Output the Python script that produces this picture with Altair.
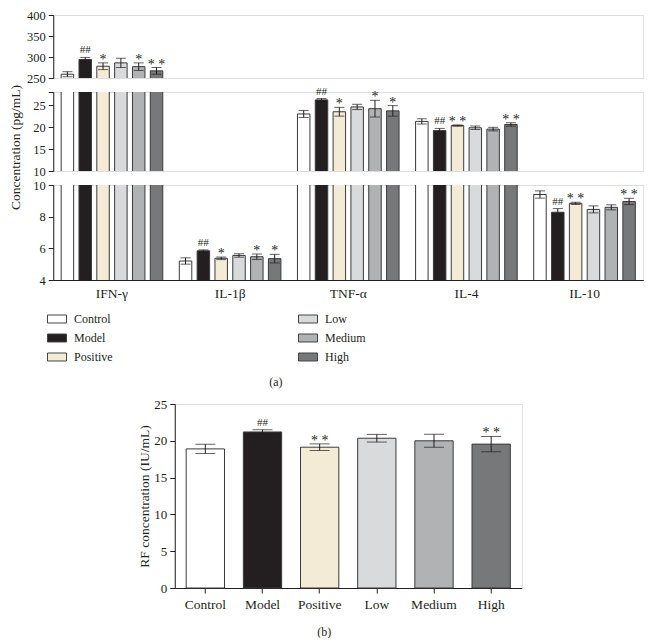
import altair as alt
import pandas as pd

FONT = "Liberation Serif"
INK = "#231f20"

groups = ["IFN-γ", "IL-1β", "TNF-α", "IL-4", "IL-10"]
treatments = ["Control", "Model", "Positive", "Low", "Medium", "High"]
colors = ["#ffffff", "#231f20", "#f3ebd6", "#d9dadb", "#b0b2b4", "#77787a"]

ifn_mean = [259, 294, 278, 286, 277, 267]
ifn_err = [6, 5, 8, 11, 9, 8]
ifn_sig = ["", "##", "*", "", "*", "* *"]

il1b_mean = [5.2, 5.84, 5.37, 5.55, 5.47, 5.35]
il1b_err = [0.2, 0.06, 0.08, 0.11, 0.17, 0.27]
il1b_sig = ["", "##", "*", "", "*", "*"]

tnf_mean = [23.0, 26.2, 23.5, 24.6, 24.2, 23.7]
tnf_err = [0.8, 0.3, 1.0, 0.6, 1.9, 1.2]
tnf_sig = ["", "##", "*", "", "*", "*"]

il4_mean = [21.3, 19.2, 20.35, 19.85, 19.55, 20.6]
il4_err = [0.6, 0.5, 0.15, 0.4, 0.4, 0.4]
il4_sig = ["", "##", "* *", "", "", "* *"]

il10_mean = [9.4, 8.28, 8.84, 8.46, 8.59, 8.96]
il10_err = [0.23, 0.23, 0.07, 0.22, 0.16, 0.2]
il10_sig = ["", "##", "* *", "", "", "* *"]

rf_mean = [18.9, 21.2, 19.13, 20.35, 20.0, 19.55]
rf_err = [0.63, 0.3, 0.45, 0.52, 0.88, 1.04]
rf_sig = ["", "##", "* *", "", "", "* *"]

# which axis segment each cytokine is read on: 0 = top, 1 = middle, 2 = bottom
segment_of = {"IFN-γ": 0, "IL-1β": 2, "TNF-α": 1, "IL-4": 1, "IL-10": 2}

rows = []
for g, ms, es, ss in zip(groups,
                         [ifn_mean, il1b_mean, tnf_mean, il4_mean, il10_mean],
                         [ifn_err, il1b_err, tnf_err, il4_err, il10_err],
                         [ifn_sig, il1b_sig, tnf_sig, il4_sig, il10_sig]):
    for t, m, e, s in zip(treatments, ms, es, ss):
        rows.append(dict(group=g, treatment=t, mean=m, lo=m - e, hi=m + e, sig=s, seg=segment_of[g]))
df = pd.DataFrame(rows)

rf_df = pd.DataFrame(dict(treatment=treatments, mean=rf_mean,
                          lo=[m - e for m, e in zip(rf_mean, rf_err)],
                          hi=[m + e for m, e in zip(rf_mean, rf_err)],
                          sig=rf_sig))

legend = alt.Legend(title=None, orient="none", legendX=-6, legendY=294, columns=2,
                    columnPadding=183, rowPadding=3, symbolType="M-1,-0.42H1V0.42H-1Z",
                    symbolSize=361, symbolStrokeColor="#444", symbolStrokeWidth=1,
                    labelFont=FONT, labelFontSize=12, labelColor=INK, labelOffset=7,
                    symbolOpacity=1)

color = alt.Color("treatment:N", scale=alt.Scale(domain=treatments, range=colors),
                  legend=legend)

W = 590


def yaxis(values, title=None, titleY=None, hide=None, titlePadding=10, fs=13):
    kw = dict(values=values, grid=False, tickSize=5, domainColor=INK, tickColor=INK,
              labelColor=INK, labelFont=FONT, labelFontSize=fs, labelPadding=3,
              labelOverlap=False, labelFlush=False, labelBound=False)
    if title:
        kw.update(title=title, titleFont=FONT, titleFontSize=13.5, titleFontWeight="normal",
                  titleColor=INK, titlePadding=titlePadding)
        if titleY is not None:
            kw.update(titleY=titleY)
    else:
        kw.update(title=None)
    if hide is not None:
        kw.update(labelExpr=f"datum.value == {hide} ? '' : datum.label")
    return alt.Axis(**kw)


def sig_layers(base, x, xo, y):
    enc = dict(x=x, y=y, text="sig:N")
    if xo is not None:
        enc["xOffset"] = xo
    stars = base.transform_filter("datum.sig != '##'").mark_text(
        baseline="alphabetic", dy=1, font=FONT, fontSize=14, color=INK).encode(**enc)
    hashes = base.transform_filter("datum.sig == '##'").mark_text(
        baseline="alphabetic", dy=-4, font=FONT, fontSize=11, color=INK).encode(**enc)
    return [stars, hashes]


def panel(domain, height, values, seg, show_x, title=None, titleY=None, hide=None):
    if show_x:
        xax = alt.Axis(labelAngle=0, ticks=False, domainColor=INK, labelColor=INK,
                       labelFont=FONT, labelFontSize=13.5, labelPadding=6, title=None)
    else:
        xax = None
    x = alt.X("group:N", sort=groups, title=None,
              scale=alt.Scale(paddingInner=0.14, paddingOuter=0.067), axis=xax)
    xo = alt.XOffset("treatment:N", sort=treatments,
                     scale=alt.Scale(paddingInner=0.3, paddingOuter=0))
    ysc = alt.Scale(domain=domain, zero=False, nice=False)
    ax = yaxis(values, title, titleY, hide, fs=12.5)
    bars = alt.Chart(df).mark_bar(clip=True, stroke="#3a3a3a", strokeWidth=1).encode(
        x=x, xOffset=xo,
        y=alt.Y("mean:Q", scale=ysc, axis=ax),
        color=color,
    )
    sub = df[df.seg == seg]
    base = alt.Chart(sub)
    err = base.mark_rule(color=INK, strokeWidth=1).encode(
        x=x, xOffset=xo, y=alt.Y("lo:Q", scale=ysc, axis=ax), y2="hi:Q")
    caps_hi = base.mark_tick(color=INK, thickness=1, size=10).encode(
        x=x, xOffset=xo, y=alt.Y("hi:Q", scale=ysc, axis=ax))
    caps_lo = base.mark_tick(color=INK, thickness=1, size=10).encode(
        x=x, xOffset=xo, y=alt.Y("lo:Q", scale=ysc, axis=ax))
    txt = sig_layers(base, x, xo, alt.Y("hi:Q", scale=ysc, axis=ax))
    return alt.layer(bars, err, caps_hi, caps_lo, *txt).properties(width=W, height=height)


top = panel([250, 400], 63, [250, 300, 350, 400], 0, False)
mid = panel([10, 28], 79, [10, 15, 20, 25, 28], 1, False,
            title="Concentration (pg/mL)", titleY=55, hide=28)
bot = panel([4, 10], 95, [4, 6, 8, 10], 2, True)

a_sec = alt.vconcat(top, mid, bot, spacing=14, bounds="flush").properties(
    title=alt.TitleParams("(a)", orient="bottom", anchor="start", dx=261, offset=77,
                          font=FONT, fontSize=12, fontWeight="normal", color=INK))

bx = alt.X("treatment:N", sort=treatments, title=None,
           scale=alt.Scale(paddingInner=0.33, paddingOuter=0.2),
           axis=alt.Axis(labelAngle=0, tickSize=5, domainColor=INK, tickColor=INK,
                         labelColor=INK, labelFont=FONT, labelFontSize=13.5, labelPadding=4))
bysc = alt.Scale(domain=[0, 25], nice=False)
bax = yaxis([0, 5, 10, 15, 20, 25], "RF concentration (IU/mL)", titlePadding=2)
b_bars = alt.Chart(rf_df).mark_bar(stroke="#3a3a3a", strokeWidth=1).encode(
    x=bx, y=alt.Y("mean:Q", scale=bysc, axis=bax), color=color)
b_base = alt.Chart(rf_df)
b_err = b_base.mark_rule(color=INK, strokeWidth=1).encode(
    x=bx, y=alt.Y("lo:Q", scale=bysc, axis=bax), y2="hi:Q")
b_cap1 = b_base.mark_tick(color=INK, thickness=1, size=20).encode(
    x=bx, y=alt.Y("hi:Q", scale=bysc, axis=bax))
b_cap2 = b_base.mark_tick(color=INK, thickness=1, size=20).encode(
    x=bx, y=alt.Y("lo:Q", scale=bysc, axis=bax))
b_txt = sig_layers(b_base, bx, None, alt.Y("hi:Q", scale=bysc, axis=bax))
b_chart = alt.layer(b_bars, b_err, b_cap1, b_cap2, *b_txt).properties(
    width=347, height=184,
    title=alt.TitleParams("(b)", orient="bottom", anchor="middle", offset=16, dx=-24,
                          font=FONT, fontSize=12, fontWeight="normal", color=INK))

chart = alt.vconcat(a_sec, b_chart, spacing=9, center=True).properties(
    padding={"left": 0, "top": 0, "right": 0, "bottom": 0}
).configure_view(stroke=None).configure_axis(labelOverlap=False).configure(font=FONT)

chart.save("out.html", embed_options={"renderer": "svg", "actions": False})
